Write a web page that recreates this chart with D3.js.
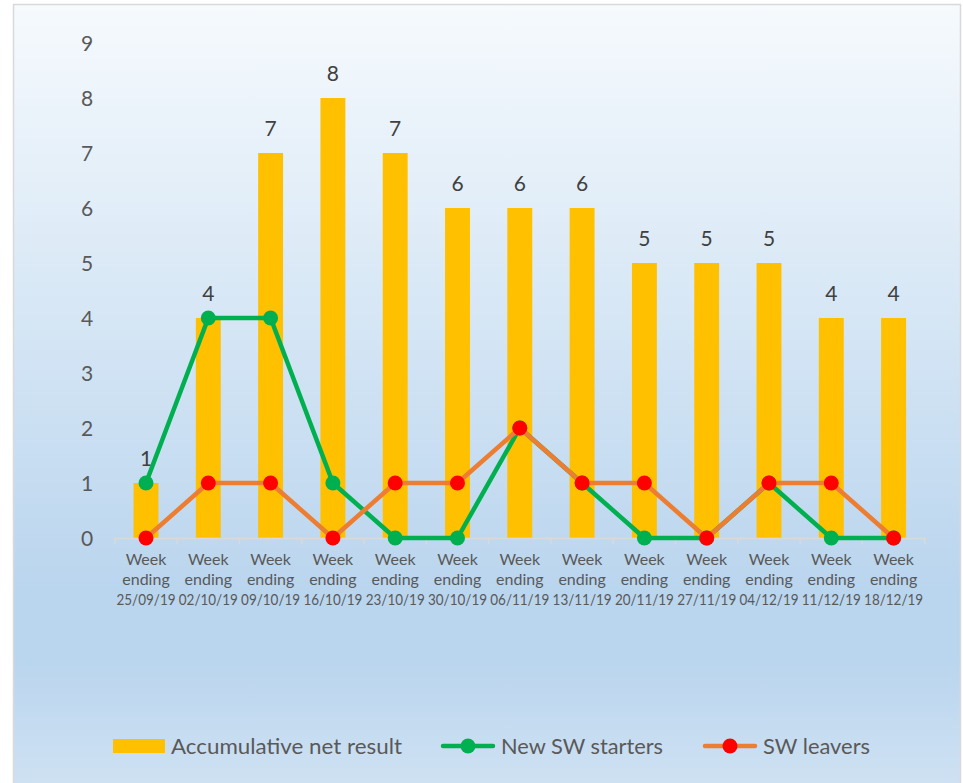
<!DOCTYPE html>
<html>
<head>
<meta charset="utf-8">
<script src="https://cdn.jsdelivr.net/npm/d3@7"></script>
<style>
html,body{margin:0;padding:0;background:#fff;}
svg{display:block;}
text{font-family:Lato,"Open Sans",sans-serif;}
</style>
</head>
<body>
<svg id="chart" width="963" height="783"></svg>
<script>
const categories = ["25/09/19","02/10/19","09/10/19","16/10/19","23/10/19","30/10/19","06/11/19","13/11/19","20/11/19","27/11/19","04/12/19","11/12/19","18/12/19"];
const netResult = [1,4,7,8,7,6,6,6,5,5,5,4,4];
const starters  = [1,4,4,1,0,0,2,1,0,0,1,0,0];
const leavers   = [0,1,1,0,1,1,2,1,1,0,1,1,0];
const yTicks = [0,1,2,3,4,5,6,7,8,9];
const seriesNames = ["Accumulative net result","New SW starters","SW leavers"];

const svg = d3.select("#chart");
const defs = svg.append("defs");
const grad = defs.append("linearGradient").attr("id","bg").attr("x1",0).attr("y1",0).attr("x2",0).attr("y2",1);
[["0%","#f6fafd"],["74%","#bad5ee"],["83%","#bad5ee"],["100%","#d0e2f3"]].forEach(s=>grad.append("stop").attr("offset",s[0]).attr("stop-color",s[1]));

svg.append("rect").attr("x",13.5).attr("y",4.5).attr("width",947).attr("height",790)
  .attr("fill","url(#bg)").attr("stroke","#d9d9d9").attr("stroke-width",1.5);

const x = d3.scaleBand().domain(categories).range([114.85, 924.75]).padding(0);
const y = d3.scaleLinear().domain([0,9]).range([538,43]);
const barW = x.bandwidth()*0.4;
const cx = d => x(d) + x.bandwidth()/2;

// y tick labels
svg.append("g").selectAll("text").data(yTicks).join("text")
  .attr("x",87).attr("y",d=>y(d)).attr("dy","0.36em").attr("text-anchor","middle")
  .attr("fill","#595959").attr("font-size",21).text(d=>d);

// bars
svg.append("g").selectAll("rect").data(categories).join("rect")
  .attr("x",(d)=>cx(d)-barW/2).attr("y",(d,i)=>y(netResult[i]))
  .attr("width",barW).attr("height",(d,i)=>y(0)-y(netResult[i]))
  .attr("fill","#ffc000");

// x axis
const xAxis = d3.axisBottom(x).tickSize(0).tickFormat("");
const ax = svg.append("g").attr("transform","translate(0,538)").call(xAxis);
ax.select(".domain").attr("stroke","#d9d9d9").attr("stroke-width",1.5);
const bounds = categories.map(c=>x(c)).concat([x.range()[1]]);
svg.append("g").selectAll("line").data(bounds).join("line")
  .attr("x1",d=>d).attr("x2",d=>d).attr("y1",538).attr("y2",544)
  .attr("stroke","#d9d9d9").attr("stroke-width",1.5);

// x labels
const xg = svg.append("g");
xg.selectAll("text.w").data(categories).join("text").attr("class","w")
  .attr("x",d=>cx(d)).attr("y",564.5).attr("text-anchor","middle").attr("fill","#595959").attr("font-size",16).text("Week");
xg.selectAll("text.e").data(categories).join("text").attr("class","e")
  .attr("x",d=>cx(d)).attr("y",584.5).attr("text-anchor","middle").attr("fill","#595959").attr("font-size",16).text("ending");
xg.selectAll("text.d").data(categories).join("text").attr("class","d")
  .attr("x",d=>cx(d)).attr("y",604.5).attr("text-anchor","middle").attr("fill","#595959").attr("font-size",15.5)
  .attr("textLength",59).attr("lengthAdjust","spacingAndGlyphs").text(d=>d);

// data labels
svg.append("g").selectAll("text").data(categories).join("text")
  .attr("x",d=>cx(d)).attr("y",(d,i)=>y(netResult[i])-25).attr("dy","0.36em")
  .attr("text-anchor","middle").attr("fill","#404040").attr("font-size",21)
  .text((d,i)=>netResult[i]);

// lines
const line = d3.line().x(d=>cx(d.c)).y(d=>y(d.v));
function drawSeries(vals, lineColor, markerColor){
  const pts = categories.map((c,i)=>({c, v: vals[i]}));
  svg.append("path").datum(pts).attr("d",line).attr("fill","none")
    .attr("stroke",lineColor).attr("stroke-width",4.5).attr("stroke-linejoin","round").attr("stroke-linecap","round");
  svg.append("g").selectAll("circle").data(pts).join("circle")
    .attr("cx",d=>cx(d.c)).attr("cy",d=>y(d.v)).attr("r",7.5).attr("fill",markerColor);
}
drawSeries(starters,"#00b050","#00b050");
drawSeries(leavers,"#ed7d31","#ff0000");

// legend
const lg = svg.append("g");
lg.append("rect").attr("x",113).attr("y",739).attr("width",52).attr("height",14).attr("fill","#ffc000");
lg.append("text").attr("x",171).attr("y",746).attr("dy","0.36em").attr("font-size",21.5).attr("fill","#595959")
  .attr("textLength",231).attr("lengthAdjust","spacingAndGlyphs").text(seriesNames[0]);
lg.append("line").attr("x1",443).attr("x2",493).attr("y1",746).attr("y2",746).attr("stroke","#00b050").attr("stroke-width",4.5).attr("stroke-linecap","round");
lg.append("circle").attr("cx",468).attr("cy",746).attr("r",7.5).attr("fill","#00b050");
lg.append("text").attr("x",501).attr("y",746).attr("dy","0.36em").attr("font-size",21.5).attr("fill","#595959")
  .attr("textLength",162).attr("lengthAdjust","spacingAndGlyphs").text(seriesNames[1]);
lg.append("line").attr("x1",705).attr("x2",755).attr("y1",746).attr("y2",746).attr("stroke","#ed7d31").attr("stroke-width",4.5).attr("stroke-linecap","round");
lg.append("circle").attr("cx",730).attr("cy",746).attr("r",7.5).attr("fill","#ff0000");
lg.append("text").attr("x",763).attr("y",746).attr("dy","0.36em").attr("font-size",21.5).attr("fill","#595959")
  .attr("textLength",107).attr("lengthAdjust","spacingAndGlyphs").text(seriesNames[2]);
</script>
</body>
</html>
